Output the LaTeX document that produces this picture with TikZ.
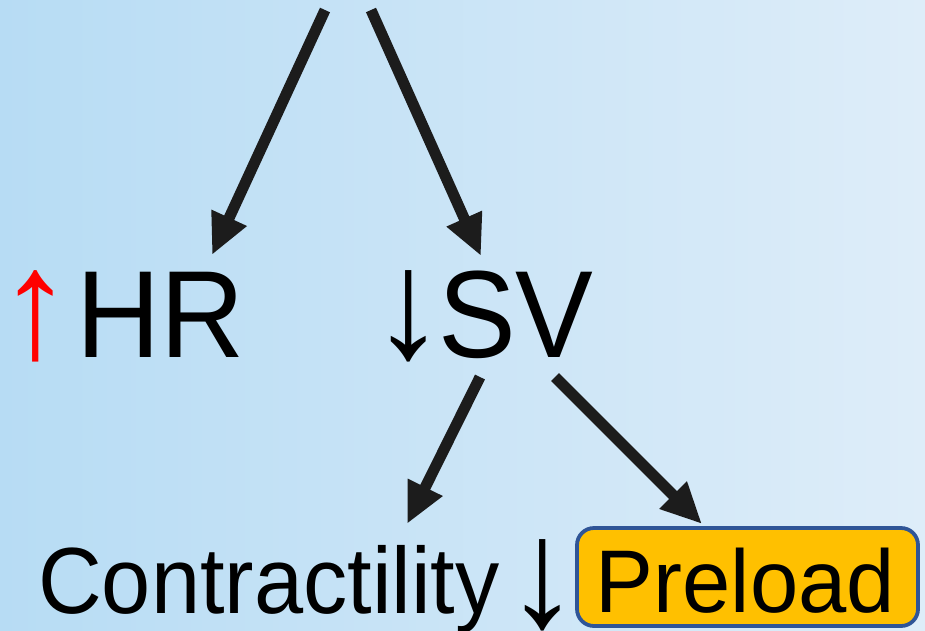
\documentclass[tikz,border=0pt]{standalone}
\usepackage{fontspec}
\setmainfont{Liberation Sans}
\newfontfamily\narrowsans[FakeStretch=0.94]{Liberation Sans}
\newfontfamily\preloadsans[FakeStretch=0.975]{Liberation Sans}
\usetikzlibrary{arrows.meta}
\definecolor{bgL}{RGB}{183,220,244}
\definecolor{bgM}{RGB}{192,225,246}
\definecolor{bgR}{RGB}{222,237,249}
\definecolor{arr}{RGB}{28,28,28}
\definecolor{pre}{RGB}{255,192,0}
\definecolor{preb}{RGB}{47,85,151}
\newcommand{\tallarrow}[1]{\scalebox{1.25}[1.3]{#1}}
\begin{document}
\begin{tikzpicture}[x=1pt,y=-1pt,
  big/.style={font=\narrowsans\fontsize{124}{124}\selectfont, inner sep=0pt, anchor=base west},
  small/.style={font=\narrowsans\fontsize{94}{94}\selectfont, inner sep=0pt, anchor=base west},
  sym/.style={font=\fontsize{119}{119}\selectfont, inner sep=0pt, anchor=base},
  fat/.style={draw=arr, line width=11pt, -{Triangle[length=41pt,width=36pt]}},
  prebox/.style={draw=preb, line width=3.8pt, fill=pre, rounded corners=17pt,
    minimum width=341pt, minimum height=98pt, inner xsep=0pt,
    text height=70pt, text depth=0pt,
    font=\preloadsans\fontsize{89}{89}\selectfont}]
\useasboundingbox (0,0) rectangle (925,630);
\shade[left color=bgL, middle color=bgM, right color=bgR] (0,0) rectangle (925,630);

\node[sym, text=red] (hrup) at (36,357) {\tallarrow{↑}};
\node[big] (hr) at (76,357) {HR};
\node[sym] (svdn) at (409,357) {\tallarrow{↓}};
\node[big] (sv) at (438,357) {SV};
\node[small] (con) at (38,613) {Contractility};
\node[sym] (dn) at (543,626) {\tallarrow{↓}};
\node[prebox] (pl) at (747.5,577) {\kern-4pt Preload};

\coordinate (t1) at (325,10);
\coordinate (t2) at (371,10);
\coordinate (hrtop) at (212,255);
\coordinate (svtop) at (481,256);
\coordinate (svl) at (480,377);
\coordinate (svr) at (555,377);
\coordinate (contop) at (407,524);
\coordinate (pltop) at (702,524);

\draw[fat] (t1) -- (hrtop);
\draw[fat] (t2) -- (svtop);
\draw[fat] (svl) -- (contop);
\draw[fat] (svr) -- (pltop);
\end{tikzpicture}
\end{document}
